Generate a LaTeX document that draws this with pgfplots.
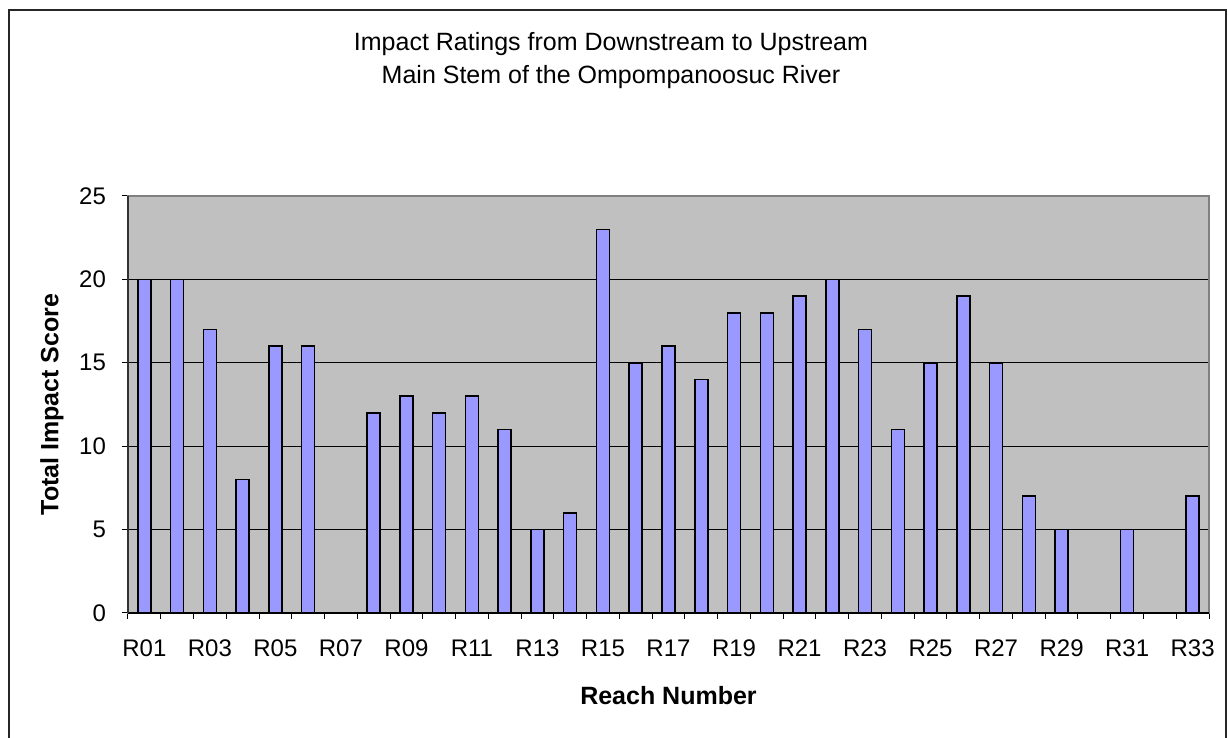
\documentclass[border=0pt]{standalone}
\usepackage{fontspec}
\setmainfont{Liberation Sans}
\usepackage{pgfplots}
\pgfplotsset{compat=1.18}
\definecolor{plotbg}{HTML}{C0C0C0}
\definecolor{barfill}{HTML}{9999FF}
\begin{document}
\begin{tikzpicture}
\begin{axis}[
  scale only axis, width=540.5pt, height=208.5pt,
  ybar, bar width=6.5pt, bar shift=0pt,
  xmin=0.5, xmax=33.5, ymin=0, ymax=25,
  axis background/.style={fill=plotbg},
  axis line style={draw=black!50, line width=0.8pt},
  ymajorgrids, grid style={black, line width=0.5pt},
  ytick={0,5,10,15,20,25},
  xtick={1,3,...,33},
  xticklabels={R01,R03,R05,R07,R09,R11,R13,R15,R17,R19,R21,R23,R25,R27,R29,R31,R33},
  minor xtick={0.5,1.5,...,33.5},
  xtick pos=lower, ytick pos=left,
  tick align=outside,
  xtick style={draw=none},
  minor x tick style={draw=black, line width=0.5pt},
  minor tick length=3pt,
  ytick style={draw=black, line width=0.5pt},
  major tick length=3pt,
  tick label style={font=\fontsize{12}{14}\selectfont},
  /pgf/number format/assume math mode=true,
  x tick label style={yshift=-7pt},
  y tick label style={xshift=-4.5pt},
  xlabel={\textbf{Reach Number}},
  ylabel={\textbf{Total Impact Score}},
  label style={font=\fontsize{12.5}{15}\selectfont},
  xlabel style={at={(0.5,0)}, anchor=center, yshift=-41.5pt},
  ylabel style={at={(0,0.5)}, anchor=center, rotate=0, yshift=38pt},
  title style={at={(0.5,1)}, anchor=center, yshift=61.5pt, xshift=-28.75pt, align=center, font=\fontsize{12.5}{16.5}\selectfont},
  title={Impact Ratings from Downstream to Upstream\\Main Stem of the Ompompanoosuc River},
  clip=false,
]
\addplot[fill=barfill, draw=black, line width=0.75pt] coordinates {
  (1,20)(2,20)(3,17)(4,8)(5,16)(6,16)
  (8,12)(9,13)(10,12)(11,13)(12,11)(13,5)(14,6)(15,23)(16,15)
  (17,16)(18,14)(19,18)(20,18)(21,19)(22,20)(23,17)(24,11)(25,15)
  (26,19)(27,15)(28,7)(29,5)(31,5)(33,7)};
\draw[black, line width=0.6pt] (axis cs:0.5,0) -- (axis cs:33.5,0);
\draw[black!80, line width=0.6pt] (axis cs:0.5,0) -- (axis cs:0.5,25);
\end{axis}
\path[use as bounding box] (-64pt,-62.5pt) rectangle (550pt,306.5pt);
\draw[black!85, line width=0.85pt] (-59.5pt,-70pt) -- (-59.5pt,301.5pt) -- (549pt,301.5pt) -- (549pt,-70pt);
\end{tikzpicture}
\end{document}
